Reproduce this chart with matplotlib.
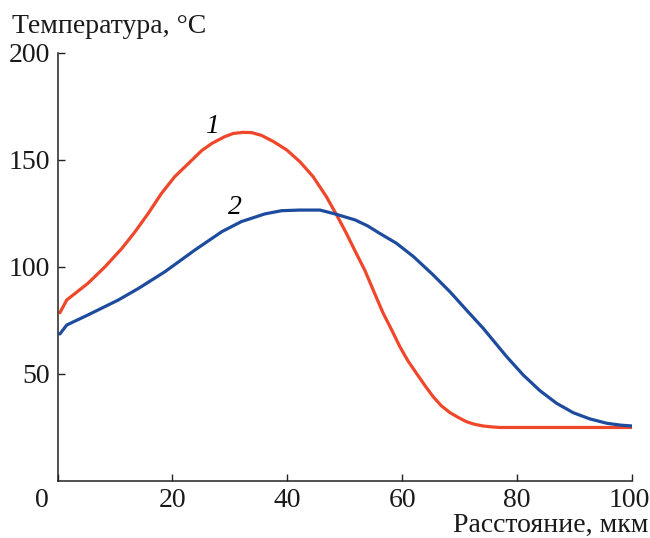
import matplotlib
matplotlib.use("Agg")
import matplotlib.pyplot as plt
import matplotlib.transforms as mtransforms

plt.rcParams['font.family'] = ['Liberation Serif', 'DejaVu Serif']

# Temperature profile 1
x1 = [0.4, 1.6, 5.3, 8.3, 11.2, 13.5, 15.8, 18.1, 20.4, 22.8, 25.1, 26.9, 29.1,
      30.6, 32.3, 33.8, 35.5, 37.6, 39.9, 42.2, 44.5, 46.8, 48.6, 50.3, 51.8,
      53.5, 55.0, 56.7, 58.2, 59.6, 61.0, 62.5, 64.0, 65.4, 66.8, 68.3, 69.7,
      71.2, 72.6, 74.1, 75.5, 77.0, 80.0, 85.0, 90.0, 95.0, 100.0]
t1 = [78.6, 84.6, 92.4, 100.2, 108.7, 116.5, 125.1, 134.4, 142.2, 148.4, 154.4,
      157.8, 160.9, 162.4, 162.9, 162.8, 161.5, 158.6, 154.7, 149.2, 142.2, 132.9,
      124.3, 115.7, 107.5, 98.5, 89.0, 78.4, 70.5, 62.8, 56.2, 50.3, 44.5, 39.4,
      35.2, 32.0, 29.8, 27.7, 26.5, 25.7, 25.3, 25.0, 25.0, 25.0, 25.0, 25.0, 25.0]

# Temperature profile 2
x2 = [0.4, 1.6, 5.3, 10.6, 14.1, 18.7, 23.9, 28.6, 32.0, 36.1, 39.0, 42.2, 45.7,
      48.3, 51.8, 54.0, 56.1, 59.0, 62.0, 65.4, 68.3, 71.2, 74.1, 77.0, 78.2, 81.1,
      84.0, 86.9, 89.8, 92.7, 95.6, 98.0, 100.0]
t2 = [68.7, 72.9, 77.6, 84.6, 90.0, 97.8, 107.9, 116.5, 121.2, 124.8, 126.3,
      126.6, 126.6, 124.8, 122.0, 119.2, 115.7, 111.1, 104.8, 96.3, 88.5, 79.9,
      71.4, 62.0, 58.1, 49.5, 42.2, 36.3, 31.9, 29.0, 27.0, 26.1, 25.7]

xticks = [0, 20, 40, 60, 80, 100]
yticks = [50, 100, 150, 200]

fig = plt.figure(figsize=(6.5, 5.38), dpi=100)
ax = fig.add_axes([0.0886, 0.106, 0.8834, 0.7955])

ax.plot(x1, t1, color='#f0462a', lw=2.3, solid_capstyle='round',
        solid_joinstyle='round')
ax.plot(x2, t2, color='#1d4b9e', lw=2.3, solid_capstyle='round',
        solid_joinstyle='round')

ax.set_xlim(0, 100)
ax.set_ylim(0, 200)
ax.set_xticks(xticks)
ax.set_yticks(yticks)
# the end labels are drawn separately with a small horizontal offset
ax.set_xticklabels([''] + [str(v) for v in xticks[1:-1]] + [''])
ax.set_yticklabels([str(v) for v in yticks])

for s in ['top', 'right']:
    ax.spines[s].set_visible(False)
for s in ['left', 'bottom']:
    ax.spines[s].set_linewidth(1.1)
    ax.spines[s].set_color('#222222')

fs = 20
ax.tick_params(axis='both', direction='in', length=5, width=1.0,
               labelsize=fs, color='#222222', labelcolor='#1a1a1a')
ax.tick_params(axis='y', pad=5.5)
ax.tick_params(axis='x', pad=5)

xlab_tr = ax.get_xaxis_transform()
for val, dx in [(xticks[0], -11), (xticks[-1], -2)]:
    tr = mtransforms.offset_copy(xlab_tr, fig=fig, x=dx, y=-5, units='points')
    ax.text(val, 0, str(val), transform=tr, fontsize=fs,
            color='#1a1a1a', ha='center', va='top')

fig.text(0.0185, 0.951, 'Температура, °C', fontsize=fs, color='#1a1a1a',
         ha='left', va='center')
fig.text(0.997, 0.024, 'Расстояние, мкм', fontsize=fs, color='#1a1a1a',
         ha='right', va='center')

ax.text(26.9, 165.5, '1', fontsize=fs, style='italic', ha='center', va='center')
ax.text(30.9, 128.0, '2', fontsize=fs, style='italic', ha='center', va='center')

fig.savefig('out.png', dpi=100)
